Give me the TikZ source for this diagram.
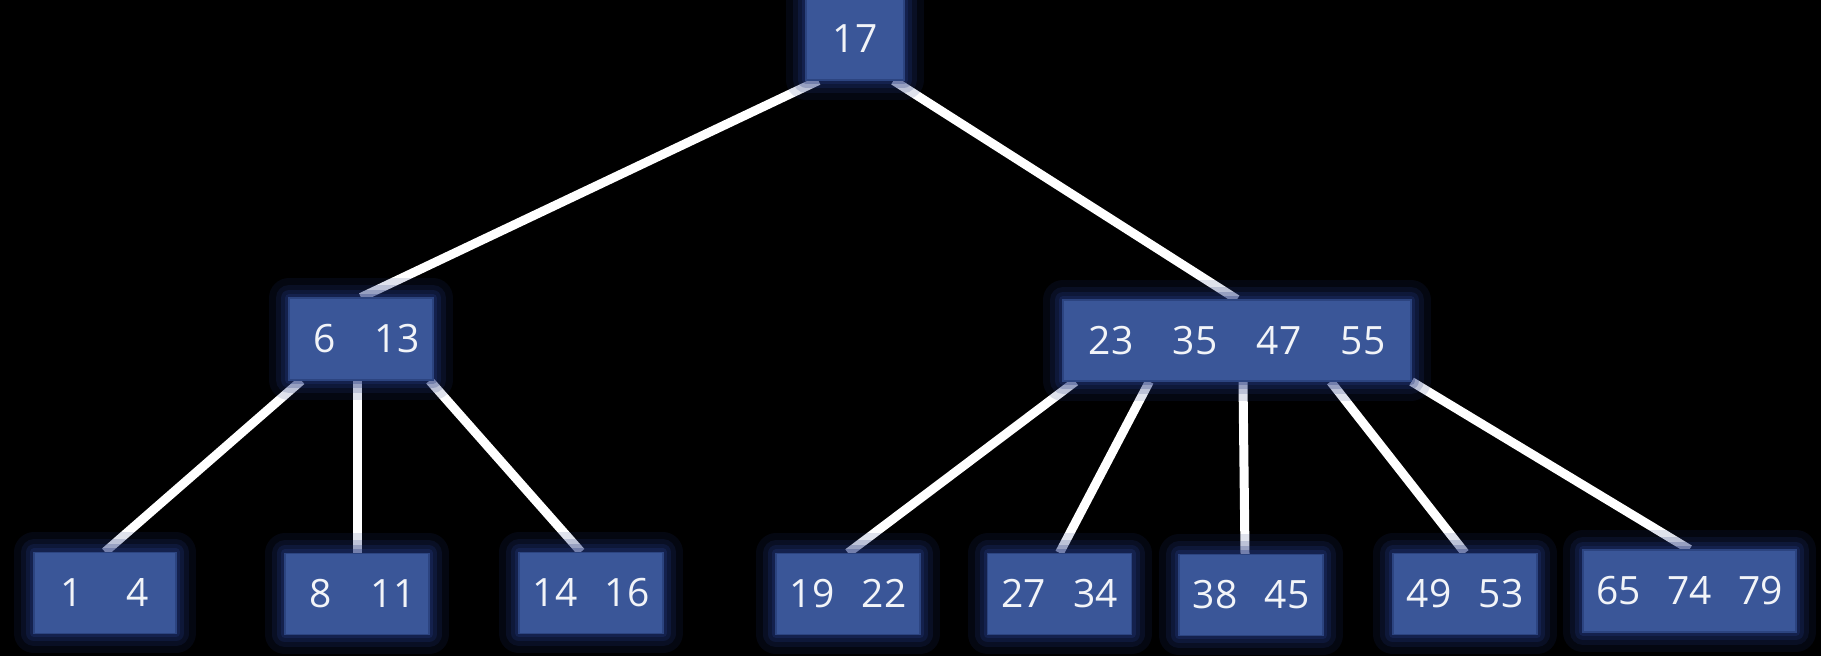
\documentclass[tikz,border=0pt]{standalone}
\usepackage{fontspec}
\setmainfont{Open Sans}
\usetikzlibrary{calc}
\definecolor{boxc}{RGB}{58,86,152}
\definecolor{edgec}{RGB}{44,68,128}
\definecolor{glowc}{RGB}{34,54,125}
\definecolor{txtc}{RGB}{242,244,248}
\pgfdeclarelayer{bg}
\pgfdeclarelayer{edges}
\pgfsetlayers{bg,edges,main}
\newcommand\kk[2][36pt]{\makebox[#1][c]{#2}}
\tikzset{
  keybox/.style={draw=edgec, line width=0.6pt, fill=boxc, inner sep=0pt,
    text=txtc, font=\fontsize{19.5pt}{22pt}\selectfont,
    preaction={draw=glowc, line width=20pt, draw opacity=0.14, line join=round},
    preaction={draw=glowc, line width=13pt, draw opacity=0.18, line join=round},
    preaction={draw=glowc, line width=8pt, draw opacity=0.24, line join=round},
    preaction={draw=glowc, line width=4pt, draw opacity=0.3, line join=round}},
  leafbox/.style={keybox, minimum width=71pt, minimum height=40.5pt},
  link/.style={draw=white, line width=4.5pt}
}
\begin{document}
\begin{tikzpicture}[x=0.5pt, y=-0.5pt]
\path[use as bounding box] (0,0) rectangle (1821,656);
\begin{pgfonlayer}{bg}
  \fill[black] (0,0) rectangle (1821,656);
\end{pgfonlayer}
% nodes
\node[keybox, minimum width=49pt, minimum height=41pt] (root) at (855,39) {17};
\node[keybox, minimum width=70pt, minimum height=41pt] (L) at (361,339) {\kk{6}\kk{13}};
\node[keybox, minimum width=174pt, minimum height=40.5pt] (R) at (1237,340.5) {\kk[42pt]{23}\kk[42pt]{35}\kk[42pt]{47}\kk[42pt]{55}};
\node[leafbox] (n1) at (105,593) {\kk[33pt]{1}\kk[33pt]{4}};
\node[leafbox] (n2) at (357,594) {\kk{8}\kk{11}};
\node[leafbox] (n3) at (591,593) {\kk{14}\kk{16}};
\node[leafbox] (n4) at (848,594) {\kk{19}\kk{22}};
\node[leafbox] (n5) at (1059.5,594) {\kk{27}\kk{34}};
\node[leafbox] (n6) at (1251,595) {\kk{38}\kk{45}};
\node[leafbox] (n7) at (1465,594) {\kk{49}\kk{53}};
\node[keybox, minimum width=102.5pt, minimum height=41pt] (n8) at (1689.5,591) {\kk[35.5pt]{65}\kk[35.5pt]{74}\kk[35.5pt]{79}};
% connectors
\begin{pgfonlayer}{edges}
  \draw[link] ($(root.south west)+(13,0)$) -- (L.north);
  \draw[link] ($(root.south east)+(-11,0)$) -- (R.north);
  \draw[link] ($(L.south west)+(13,0)$) -- (n1.north);
  \draw[link] (L.south -| n2.north) -- (n2.north);
  \draw[link] ($(L.south east)+(-4,0)$) -- ($(n3.north)+(-10,0)$);
  \draw[link] ($(R.south west)+(13,0)$) -- (n4.north);
  \draw[link] ($(R.south west)+(87,0)$) -- (n5.north);
  \draw[link] ($(R.south)+(6,0)$) -- ($(n6.north)+(-6,0)$);
  \draw[link] ($(R.south east)+(-81,0)$) -- (n7.north);
  \draw[link] (R.south east) -- (n8.north);
\end{pgfonlayer}
\end{tikzpicture}
\end{document}
